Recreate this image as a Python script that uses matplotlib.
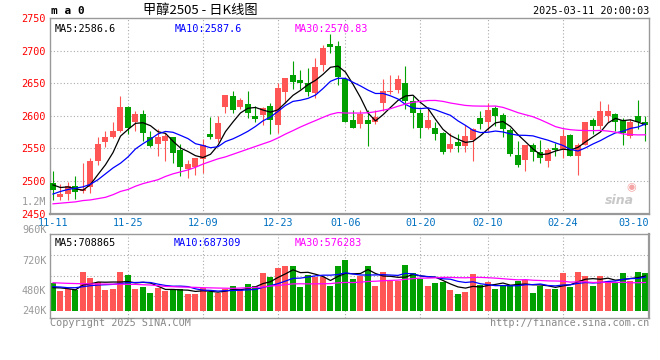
import matplotlib.pyplot as plt
import numpy as np

plt.rcParams['font.family'] = ['DejaVu Sans Mono']

# daily candles 2024-11-11 .. 2025-03-11 (index 0..79)
opens = [2497, 2475, 2480, 2493, 2484, 2491, 2531, 2560, 2568, 2576,
         2613, 2590, 2603, 2567, 2557, 2561, 2567, 2547, 2518, 2521,
         2534, 2572, 2564, 2613, 2630, 2613, 2618, 2600, 2601, 2615,
         2586, 2636, 2663, 2655, 2650, 2635, 2678, 2710, 2707, 2656,
         2593, 2588, 2594, 2590, 2620, 2637, 2640, 2651, 2622, 2605,
         2582, 2582, 2573, 2549, 2560, 2554, 2563, 2597, 2590, 2612,
         2601, 2578, 2540, 2532, 2555, 2545, 2530, 2551, 2547, 2571,
         2538, 2555, 2593, 2584, 2600, 2603, 2593, 2569, 2600, 2591]
highs = [2515, 2496, 2499, 2507, 2527, 2535, 2567, 2576, 2591, 2631,
         2615, 2607, 2609, 2577, 2580, 2573, 2567, 2556, 2532, 2535,
         2565, 2598, 2599, 2632, 2638, 2627, 2638, 2615, 2613, 2620,
         2651, 2658, 2684, 2670, 2674, 2688, 2709, 2726, 2715, 2658,
         2609, 2609, 2609, 2609, 2656, 2663, 2663, 2676, 2630, 2610,
         2613, 2591, 2575, 2573, 2572, 2586, 2582, 2608, 2620, 2615,
         2604, 2581, 2562, 2555, 2558, 2563, 2550, 2558, 2579, 2572,
         2558, 2591, 2596, 2622, 2618, 2604, 2596, 2595, 2624, 2600]
lows = [2471, 2471, 2471, 2473, 2481, 2481, 2525, 2552, 2566, 2575,
        2572, 2576, 2562, 2552, 2538, 2530, 2528, 2507, 2504, 2509,
        2513, 2564, 2560, 2605, 2605, 2610, 2596, 2591, 2586, 2572,
        2574, 2619, 2641, 2641, 2630, 2627, 2669, 2697, 2647, 2590,
        2581, 2581, 2553, 2588, 2607, 2634, 2635, 2610, 2582, 2566,
        2579, 2563, 2541, 2545, 2544, 2544, 2530, 2579, 2576, 2584,
        2568, 2539, 2522, 2516, 2530, 2528, 2522, 2538, 2536, 2538,
        2509, 2555, 2572, 2579, 2591, 2577, 2555, 2566, 2579, 2562]
closes = [2486, 2480, 2493, 2483, 2487, 2531, 2556, 2568, 2576, 2613,
          2582, 2603, 2573, 2553, 2567, 2569, 2543, 2521, 2526, 2535,
          2555, 2568, 2589, 2632, 2609, 2624, 2604, 2595, 2612, 2593,
          2642, 2658, 2652, 2650, 2637, 2675, 2704, 2706, 2659, 2591,
          2582, 2602, 2588, 2598, 2638, 2638, 2656, 2622, 2604, 2582,
          2593, 2572, 2545, 2557, 2553, 2569, 2580, 2588, 2609, 2600,
          2579, 2542, 2525, 2555, 2545, 2535, 2548, 2547, 2569, 2539,
          2555, 2590, 2585, 2607, 2608, 2590, 2573, 2591, 2590, 2586]
volumes = [558000, 401000, 442000, 422000, 796000, 673000, 592000, 422000, 442000, 796000,
           728000, 442000, 490000, 367000, 469000, 401000, 442000, 442000, 340000, 340000,
           469000, 388000, 354000, 442000, 503000, 442000, 544000, 503000, 775000, 694000,
           877000, 911000, 911000, 490000, 728000, 680000, 680000, 503000, 911000, 1034000,
           639000, 707000, 911000, 503000, 782000, 605000, 605000, 932000, 775000, 639000,
           503000, 571000, 592000, 422000, 340000, 381000, 748000, 524000, 585000, 442000,
           524000, 524000, 605000, 626000, 367000, 503000, 442000, 442000, 775000, 490000,
           796000, 707000, 503000, 707000, 605000, 592000, 775000, 605000, 796000, 775000]

# moving-average values before a full window is visible
ma5_head = [2494, 2490, 2491, 2488]
ma10_head = [2480, 2484, 2487, 2489, 2491, 2495, 2502, 2511, 2520]
ma30_head = [2465, 2466, 2467, 2468, 2470, 2471, 2473, 2475, 2479, 2484,
             2487, 2492, 2496, 2499, 2502, 2507, 2511, 2514, 2517, 2521,
             2526, 2530, 2534, 2537, 2541, 2545, 2549, 2553, 2557]
vma5_head = [470000, 465000, 450000, 425000]
vma10_head = [490000, 483000, 469000, 469000, 490000, 510000, 524000, 530000, 537000]
vma30_head = [571000, 564000, 558000, 554000, 551000, 547000, 544000, 544000, 541000, 541000,
              537000, 537000, 530000, 524000, 510000, 496000, 490000, 483000, 480000, 476000,
              469000, 466000, 462000, 459000, 456000, 462000, 469000, 476000, 483000]

# legend values as printed on the chart
price_ma_labels = ['MA5:2586.6', 'MA10:2587.6', 'MA30:2570.83']
vol_ma_labels = ['MA5:708865', 'MA10:687309', 'MA30:576283']

date_labels = ['11-11', '11-25', '12-09', '12-23', '01-06', '01-20', '02-10', '02-24', '03-10']
date_idx = [0, 10, 20, 30, 39, 49, 58, 68, 78]
price_ticks = [2750, 2700, 2650, 2600, 2550, 2500, 2450]
vol_tick_labels = ['960K', '720K', '480K', '240K']

RED = '#ff5555'
GREEN = '#00a000'
GRID = '#aaaaaa'
BORDER = '#999999'
MA_COLORS = ['black', '#0000ff', '#ff00ff']


def moving_avg(values, n, head):
    vals = np.asarray(values, float)
    out = np.empty(len(vals))
    out[:len(head)] = head
    for i in range(len(head), len(vals)):
        out[i] = vals[i - n + 1:i + 1].mean()
    return out


o = np.array(opens, float)
h = np.array(highs, float)
l = np.array(lows, float)
c = np.array(closes, float)
v = np.array(volumes, float)
x = np.arange(len(c))
colors = np.where(c >= o, RED, GREEN)

fig = plt.figure(figsize=(6.6, 3.6), dpi=100)
ax = fig.add_axes([50/660, 1 - 213.6/360, 599/660, 195.6/360])
axv = fig.add_axes([50/660, 1 - 318/360, 599/660, 84/360])

xlim = (-0.4, 79.47)

# ---- price panel
ax.vlines(x, l, h, colors=colors, lw=0.8, zorder=2)
ax.bar(x, np.maximum(np.abs(c - o), 1.0), bottom=np.minimum(o, c), width=0.8,
       color=colors, lw=0, zorder=3)
for n, head, col in zip((5, 10, 30), (ma5_head, ma10_head, ma30_head), MA_COLORS):
    ax.plot(x, moving_avg(c, n, head), color=col, lw=0.9, zorder=4)

ax.set_xlim(*xlim)
ax.set_ylim(2450, 2750)
for p in price_ticks[1:-1]:
    ax.axhline(p, color=GRID, lw=0.8, ls=(0, (1, 2)), zorder=1)
for d in date_idx[1:-1]:
    ax.axvline(d, color=GRID, lw=0.8, ls=(0, (1, 2)), zorder=1)
ax.set_yticks(price_ticks)
ax.set_yticklabels([str(p) for p in price_ticks], color='#ff0000', fontsize=7.3)
ax.set_xticks([])
ax.tick_params(axis='y', length=0, pad=3)
for s in ax.spines.values():
    s.set_color(BORDER)
    s.set_linewidth(1)
ax.spines['bottom'].set_linewidth(1.6)

ax.text(-0.006, 2468.5, '1.2M', transform=ax.get_yaxis_transform(), ha='right',
        va='center', color='#999999', fontsize=7.3)
for d, lab in zip(date_idx, date_labels):
    if d == date_idx[-1]:
        ax.text(xlim[1], -0.046, lab, transform=ax.get_xaxis_transform(), ha='right',
                va='center', color='#0070c0', fontsize=7.3)
    else:
        ax.text(d, -0.046, lab, transform=ax.get_xaxis_transform(), ha='center',
                va='center', color='#0070c0', fontsize=7.3)

for xpos, lab, col in zip((0.008, 0.208, 0.409), price_ma_labels, MA_COLORS):
    ax.text(xpos, 0.97, lab, transform=ax.transAxes, va='top', fontsize=7.3, color=col)

# sina watermark
ax.text(0.97, 0.135, '◉', transform=ax.transAxes, ha='center', va='center',
        fontsize=8, color='#f5a5a5', family='DejaVu Sans')
ax.text(0.975, 0.065, 'sina', transform=ax.transAxes, ha='right', va='center',
        fontsize=9, style='italic', fontweight='bold', color='#c8c8c8', family='DejaVu Sans')

# ---- volume panel
vy0, vy1 = -149000, 1565000
axv.bar(x, v, width=0.8, color=colors, lw=0, zorder=2)
for n, head, col in zip((5, 10, 30), (vma5_head, vma10_head, vma30_head), MA_COLORS):
    axv.plot(x, moving_avg(v, n, head), color=col, lw=0.9, zorder=4)
axv.set_xlim(*xlim)
axv.set_ylim(vy0, vy1)
for f in (0.262, 0.5, 0.75):
    axv.axhline(vy0 + f * (vy1 - vy0), color=GRID, lw=0.8, ls=(0, (1, 2)), zorder=1)
for d in date_idx[1:-1]:
    axv.axvline(d, color=GRID, lw=0.8, ls=(0, (1, 2)), zorder=1)
axv.set_xticks([])
axv.set_yticks([])
for s in axv.spines.values():
    s.set_color(BORDER)
    s.set_linewidth(1)
axv.spines['right'].set_linewidth(1.6)

for lab, f in zip(vol_tick_labels, [1.042, 0.679, 0.327, 0.089]):
    axv.text(-0.006, f, lab, transform=axv.transAxes, ha='right', va='center',
             color='#999999', fontsize=7.3)

for xpos, lab, col in zip((0.007, 0.207, 0.408), vol_ma_labels, MA_COLORS):
    axv.text(xpos, 0.95, lab, transform=axv.transAxes, va='top', fontsize=7.3, color=col)

# ---- header / footer
fig.text(51/660, 1 - 11/360, 'm a 0', fontsize=8, fontweight='bold', va='center', ha='left')
fig.text(200/660, 1 - 10.5/360, '甲醇2505 - 日K线图', fontsize=9.5, va='center', ha='center',
         family=['Noto Sans CJK SC', 'DejaVu Sans'])
fig.text(649/660, 1 - 11.5/360, '2025-03-11 20:00:03', fontsize=7.3, va='center', ha='right')
fig.text(50/660, 1 - 323/360, 'Copyright 2025 SINA.COM', fontsize=7.3, va='center',
         ha='left', color='#888888')
fig.text(649/660, 1 - 323.5/360, 'http://finance.sina.com.cn', fontsize=7.3, va='center',
         ha='right', color='#888888')

fig.savefig('out.png', dpi=100)
